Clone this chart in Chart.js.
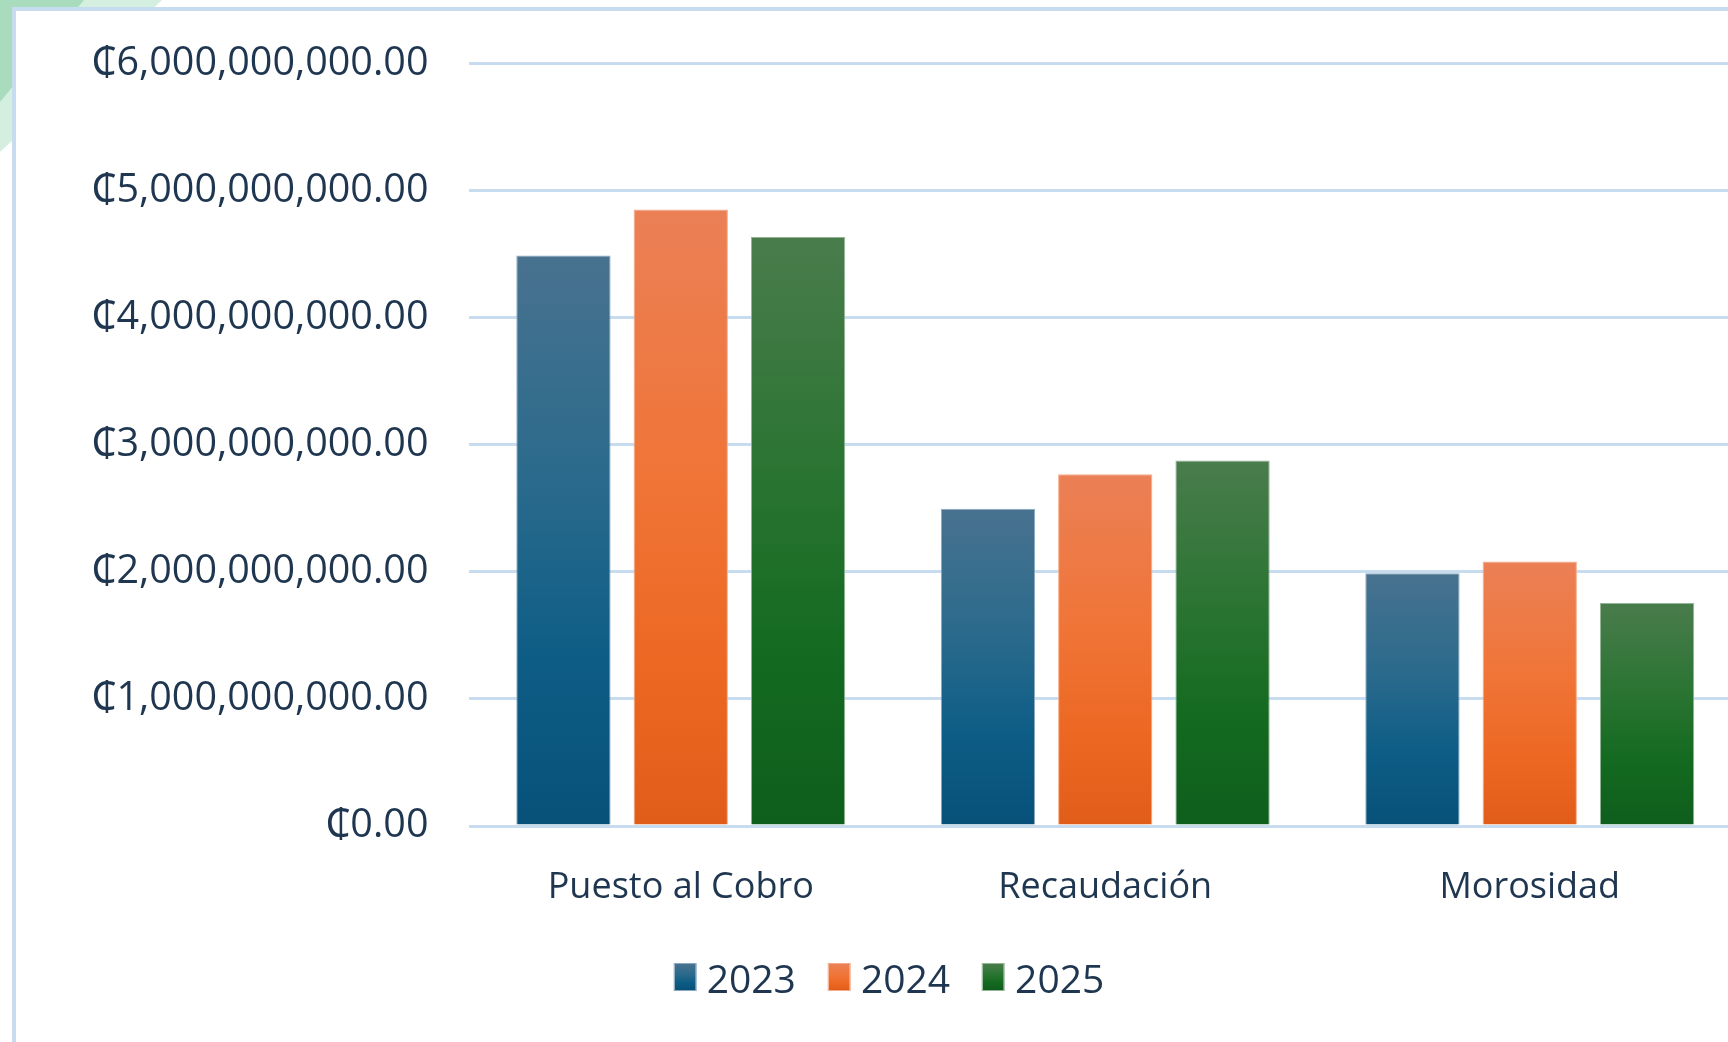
<!DOCTYPE html>
<html>
<head>
<meta charset="utf-8">
<script src="https://cdn.jsdelivr.net/npm/chart.js@4"></script>
<style>
  html, body { margin: 0; padding: 0; width: 1728px; height: 1042px; overflow: hidden; background: #fff; }
  .deco1 { position: absolute; left: 0; top: 0; width: 170px; height: 160px; background: #d4eee0; clip-path: polygon(0 0, 162px 0, 0 152px); }
  .deco2 { position: absolute; left: 0; top: 0; width: 90px; height: 110px; background: #a8dcbd; clip-path: polygon(0 0, 84px 0, 0 102px); }
  #frame { position: absolute; left: 12px; top: 7px; width: 1800px; height: 1100px; border: 4px solid #c8dcf0; background: #fff; }
  #chartBox { position: absolute; left: 0; top: 0; width: 1760px; height: 1042px; }
  #legend { position: absolute; left: 889px; top: 953px; transform: translateX(-50%); display: flex; align-items: center; height: 48px;
            font-family: 'Open Sans', 'Noto Sans', sans-serif; font-size: 39px; color: #1f3650; white-space: nowrap; }
  #legend .item { display: flex; align-items: center; margin: 0 16px; }
  #legend .box { width: 23px; height: 28px; margin-right: 10px; box-sizing: border-box; }
</style>
</head>
<body>
<div class="deco1"></div>
<div class="deco2"></div>
<div id="frame"></div>
<div id="chartBox"><canvas id="gastosChart" width="1760" height="1042"></canvas></div>
<div id="legend"></div>

<script>
const categories = ['Puesto al Cobro', 'Recaudación', 'Morosidad'];
const years = ['2023', '2024', '2025'];

const values2023 = [4490000000, 2497000000, 1990000000];
const values2024 = [4853000000, 2769000000, 2081000000];
const values2025 = [4635000000, 2876000000, 1755000000];

const yTicks = [0, 1000000000, 2000000000, 3000000000, 4000000000, 5000000000, 6000000000];

const fontFamily = "'Open Sans', 'Noto Sans', 'DejaVu Sans', sans-serif";
const textColor = '#1f3650';

// top -> bottom colour stops, like the Office gradient fill
const gradients = [
    [[0, '#48728f'], [0.4, '#2a6a8c'], [0.7, '#0e5d86'], [1, '#075179']],
    [[0, '#eb8056'], [0.45, '#f07436'], [0.75, '#ec6722'], [1, '#e05d19']],
    [[0, '#4a7c4c'], [0.4, '#2a7432'], [0.7, '#146a20'], [1, '#0e5e1c']]
];
const borders = ['#8aa9c0', '#f5ab88', '#93b595'];

function barFill(i) {
    return function (ctx) {
        const chart = ctx.chart;
        if (!chart.chartArea || ctx.type !== 'data') return gradients[i][1][1];
        const y = chart.scales.y;
        const top = y.getPixelForValue(ctx.parsed.y);
        const base = y.getPixelForValue(0);
        const g = chart.ctx.createLinearGradient(0, top, 0, base);
        gradients[i].forEach(s => g.addColorStop(s[0], s[1]));
        return g;
    };
}

const series = [values2023, values2024, values2025];

const chart = new Chart(document.getElementById('gastosChart'), {
    type: 'bar',
    data: {
        labels: categories,
        datasets: series.map((vals, i) => ({
            label: years[i],
            data: vals,
            backgroundColor: barFill(i),
            borderColor: borders[i],
            borderWidth: 1,
            categoryPercentage: 0.829,
            barPercentage: 0.804
        }))
    },
    options: {
        responsive: false,
        animation: false,
        layout: { padding: { left: 0, right: 18, top: 60, bottom: 126 } },
        plugins: {
            legend: { display: false },
            tooltip: { enabled: false }
        },
        scales: {
            x: {
                grid: { display: false },
                border: { display: false },
                ticks: { color: textColor, font: { family: fontFamily, size: 36 }, padding: 32 },
                afterFit: s => { s.height = 90; }
            },
            y: {
                min: 0,
                max: 6000000000,
                afterBuildTicks: s => { s.ticks = yTicks.map(v => ({ value: v })); },
                grid: { color: '#c8dcf0', lineWidth: 3, drawTicks: false },
                border: { display: false },
                ticks: {
                    color: textColor,
                    font: { family: fontFamily, size: 39.5 },
                    padding: 40,
                    callback: v => '₵' + Number(v).toLocaleString('en-US', { minimumFractionDigits: 2, maximumFractionDigits: 2 })
                },
                afterFit: s => { s.width = 468.5; }
            }
        }
    }
});

// legend as html, built from the chart's datasets
const legendEl = document.getElementById('legend');
chart.data.datasets.forEach((ds, i) => {
    const item = document.createElement('div');
    item.className = 'item';
    const box = document.createElement('span');
    box.className = 'box';
    box.style.background = 'linear-gradient(' + gradients[i].map(s => s[1] + ' ' + (s[0] * 100) + '%').join(', ') + ')';
    box.style.border = '1px solid ' + borders[i];
    const txt = document.createElement('span');
    txt.textContent = ds.label;
    item.appendChild(box);
    item.appendChild(txt);
    legendEl.appendChild(item);
});
</script>
</body>
</html>
